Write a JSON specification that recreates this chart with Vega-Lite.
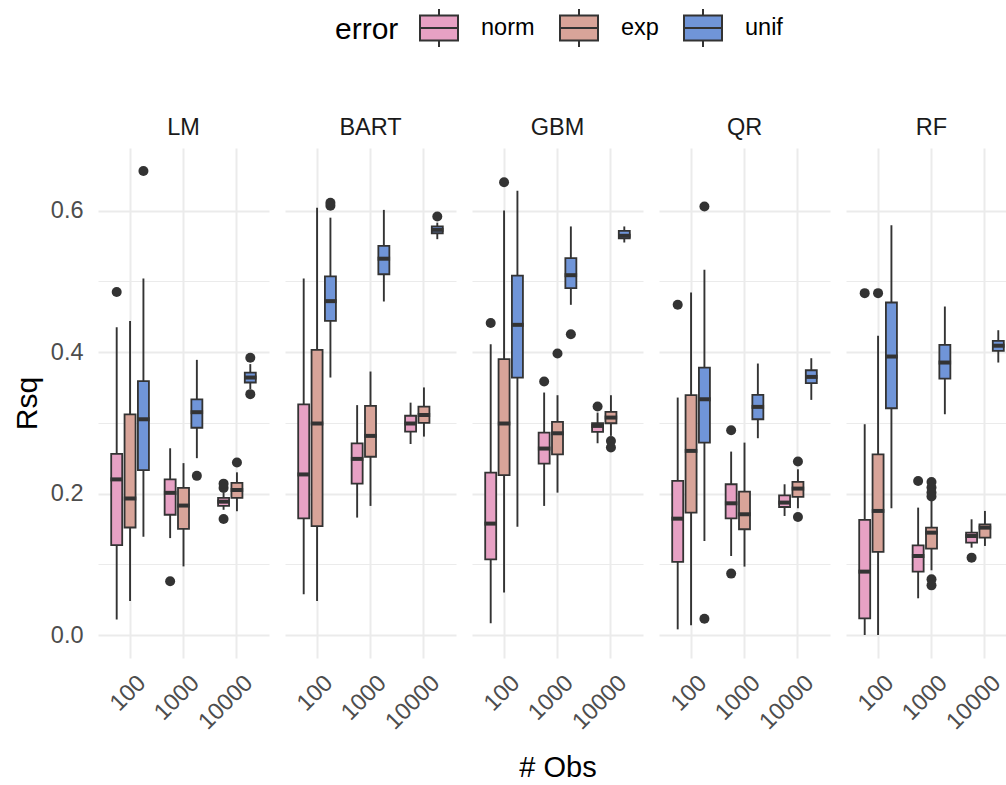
{
  "$schema": "https://vega.github.io/schema/vega-lite/v6.json",
  "background": "white",
  "padding": {"left": 12, "top": 8, "right": 0, "bottom": 0},
  "config": {
    "font": "Liberation Sans",
    "view": {"stroke": null}
  },
  "data": {
    "values": [
      {"model": "LM", "nobs": "100", "error": "norm", "lower": 0.022, "q1": 0.127, "median": 0.220, "q3": 0.256, "upper": 0.435, "outliers": [0.485]},
      {"model": "LM", "nobs": "100", "error": "exp", "lower": 0.048, "q1": 0.152, "median": 0.193, "q3": 0.312, "upper": 0.444, "outliers": []},
      {"model": "LM", "nobs": "100", "error": "unif", "lower": 0.139, "q1": 0.233, "median": 0.305, "q3": 0.359, "upper": 0.504, "outliers": [0.656]},
      {"model": "LM", "nobs": "1000", "error": "norm", "lower": 0.137, "q1": 0.170, "median": 0.201, "q3": 0.220, "upper": 0.264, "outliers": [0.076]},
      {"model": "LM", "nobs": "1000", "error": "exp", "lower": 0.097, "q1": 0.150, "median": 0.183, "q3": 0.208, "upper": 0.243, "outliers": []},
      {"model": "LM", "nobs": "1000", "error": "unif", "lower": 0.250, "q1": 0.293, "median": 0.315, "q3": 0.333, "upper": 0.389, "outliers": [0.225]},
      {"model": "LM", "nobs": "10000", "error": "norm", "lower": 0.177, "q1": 0.1825, "median": 0.1885, "q3": 0.194, "upper": 0.201, "outliers": [0.208, 0.214, 0.164]},
      {"model": "LM", "nobs": "10000", "error": "exp", "lower": 0.175, "q1": 0.194, "median": 0.205, "q3": 0.215, "upper": 0.230, "outliers": [0.244]},
      {"model": "LM", "nobs": "10000", "error": "unif", "lower": 0.3475, "q1": 0.357, "median": 0.364, "q3": 0.371, "upper": 0.383, "outliers": [0.392, 0.3405]},

      {"model": "BART", "nobs": "100", "error": "norm", "lower": 0.0575, "q1": 0.165, "median": 0.227, "q3": 0.326, "upper": 0.504, "outliers": []},
      {"model": "BART", "nobs": "100", "error": "exp", "lower": 0.048, "q1": 0.154, "median": 0.299, "q3": 0.403, "upper": 0.604, "outliers": []},
      {"model": "BART", "nobs": "100", "error": "unif", "lower": 0.364, "q1": 0.444, "median": 0.472, "q3": 0.507, "upper": 0.590, "outliers": [0.607, 0.611]},
      {"model": "BART", "nobs": "1000", "error": "norm", "lower": 0.166, "q1": 0.214, "median": 0.249, "q3": 0.271, "upper": 0.325, "outliers": []},
      {"model": "BART", "nobs": "1000", "error": "exp", "lower": 0.1825, "q1": 0.252, "median": 0.2815, "q3": 0.324, "upper": 0.3725, "outliers": []},
      {"model": "BART", "nobs": "1000", "error": "unif", "lower": 0.4715, "q1": 0.510, "median": 0.532, "q3": 0.550, "upper": 0.601, "outliers": []},
      {"model": "BART", "nobs": "10000", "error": "norm", "lower": 0.270, "q1": 0.2875, "median": 0.299, "q3": 0.310, "upper": 0.3285, "outliers": []},
      {"model": "BART", "nobs": "10000", "error": "exp", "lower": 0.2805, "q1": 0.300, "median": 0.311, "q3": 0.323, "upper": 0.350, "outliers": []},
      {"model": "BART", "nobs": "10000", "error": "unif", "lower": 0.5596, "q1": 0.568, "median": 0.5728, "q3": 0.5776, "upper": 0.583, "outliers": [0.5917]},

      {"model": "GBM", "nobs": "100", "error": "norm", "lower": 0.0165, "q1": 0.107, "median": 0.1575, "q3": 0.2296, "upper": 0.411, "outliers": [0.441]},
      {"model": "GBM", "nobs": "100", "error": "exp", "lower": 0.060, "q1": 0.226, "median": 0.299, "q3": 0.390, "upper": 0.600, "outliers": [0.640]},
      {"model": "GBM", "nobs": "100", "error": "unif", "lower": 0.153, "q1": 0.364, "median": 0.4385, "q3": 0.508, "upper": 0.628, "outliers": []},
      {"model": "GBM", "nobs": "1000", "error": "norm", "lower": 0.1825, "q1": 0.2423, "median": 0.2636, "q3": 0.2862, "upper": 0.3428, "outliers": [0.3583]},
      {"model": "GBM", "nobs": "1000", "error": "exp", "lower": 0.2013, "q1": 0.2555, "median": 0.2852, "q3": 0.3013, "upper": 0.339, "outliers": [0.398]},
      {"model": "GBM", "nobs": "1000", "error": "unif", "lower": 0.4668, "q1": 0.4903, "median": 0.5087, "q3": 0.5328, "upper": 0.5776, "outliers": [0.4253]},
      {"model": "GBM", "nobs": "10000", "error": "norm", "lower": 0.2711, "q1": 0.2871, "median": 0.2956, "q3": 0.2994, "upper": 0.3145, "outliers": [0.323]},
      {"model": "GBM", "nobs": "10000", "error": "exp", "lower": 0.2815, "q1": 0.2994, "median": 0.3074, "q3": 0.3154, "upper": 0.339, "outliers": [0.2744, 0.2650]},
      {"model": "GBM", "nobs": "10000", "error": "unif", "lower": 0.5549, "q1": 0.5606, "median": 0.5644, "q3": 0.5714, "upper": 0.5776, "outliers": []},

      {"model": "QR", "nobs": "100", "error": "norm", "lower": 0.008, "q1": 0.1033, "median": 0.1645, "q3": 0.2178, "upper": 0.3357, "outliers": [0.4668]},
      {"model": "QR", "nobs": "100", "error": "exp", "lower": 0.0137, "q1": 0.173, "median": 0.2603, "q3": 0.339, "upper": 0.4842, "outliers": []},
      {"model": "QR", "nobs": "100", "error": "unif", "lower": 0.133, "q1": 0.272, "median": 0.3333, "q3": 0.3781, "upper": 0.5163, "outliers": [0.6058, 0.0231]},
      {"model": "QR", "nobs": "1000", "error": "norm", "lower": 0.1117, "q1": 0.165, "median": 0.1862, "q3": 0.2131, "upper": 0.2593, "outliers": [0.2895, 0.0868]},
      {"model": "QR", "nobs": "1000", "error": "exp", "lower": 0.0967, "q1": 0.1495, "median": 0.1707, "q3": 0.2027, "upper": 0.272, "outliers": []},
      {"model": "QR", "nobs": "1000", "error": "unif", "lower": 0.2782, "q1": 0.305, "median": 0.3225, "q3": 0.3395, "upper": 0.3838, "outliers": []},
      {"model": "QR", "nobs": "10000", "error": "norm", "lower": 0.1683, "q1": 0.181, "median": 0.1872, "q3": 0.1975, "upper": 0.2131, "outliers": []},
      {"model": "QR", "nobs": "10000", "error": "exp", "lower": 0.1792, "q1": 0.1952, "median": 0.207, "q3": 0.2164, "upper": 0.2343, "outliers": [0.2452, 0.1669]},
      {"model": "QR", "nobs": "10000", "error": "unif", "lower": 0.3324, "q1": 0.356, "median": 0.3649, "q3": 0.3743, "upper": 0.3913, "outliers": []},

      {"model": "RF", "nobs": "100", "error": "norm", "lower": 0.0, "q1": 0.0236, "median": 0.0896, "q3": 0.1627, "upper": 0.298, "outliers": [0.4833]},
      {"model": "RF", "nobs": "100", "error": "exp", "lower": 0.0, "q1": 0.1174, "median": 0.1754, "q3": 0.2555, "upper": 0.4229, "outliers": [0.4833]},
      {"model": "RF", "nobs": "100", "error": "unif", "lower": 0.1792, "q1": 0.3206, "median": 0.3937, "q3": 0.4701, "upper": 0.5794, "outliers": []},
      {"model": "RF", "nobs": "1000", "error": "norm", "lower": 0.0519, "q1": 0.0896, "median": 0.1117, "q3": 0.1268, "upper": 0.1801, "outliers": [0.2178]},
      {"model": "RF", "nobs": "1000", "error": "exp", "lower": 0.0915, "q1": 0.1221, "median": 0.1447, "q3": 0.1518, "upper": 0.1895, "outliers": [0.2164, 0.2084, 0.2013, 0.1957, 0.0787, 0.0702]},
      {"model": "RF", "nobs": "1000", "error": "unif", "lower": 0.3121, "q1": 0.3626, "median": 0.3852, "q3": 0.4102, "upper": 0.4644, "outliers": []},
      {"model": "RF", "nobs": "10000", "error": "norm", "lower": 0.1235, "q1": 0.1306, "median": 0.140, "q3": 0.1447, "upper": 0.1636, "outliers": [0.1094]},
      {"model": "RF", "nobs": "10000", "error": "exp", "lower": 0.1259, "q1": 0.1377, "median": 0.1518, "q3": 0.1565, "upper": 0.1754, "outliers": []},
      {"model": "RF", "nobs": "10000", "error": "unif", "lower": 0.3852, "q1": 0.4017, "median": 0.409, "q3": 0.4158, "upper": 0.4309, "outliers": []}
    ]
  },
  "facet": {
    "column": {
      "field": "model",
      "type": "nominal",
      "sort": ["LM", "BART", "GBM", "QR", "RF"],
      "title": "# Obs",
      "header": {
        "labelOrient": "top",
        "labelFontSize": 23.5,
        "labelColor": "#1A1A1A",
        "labelPadding": -15,
        "labelBaseline": "bottom",
        "titleOrient": "bottom",
        "titleFontSize": 29,
        "titleFontWeight": "normal",
        "titleColor": "#000000",
        "titlePadding": 10
      }
    }
  },
  "spacing": 16,
  "spec": {
    "width": 171,
    "height": 510,
    "encoding": {
      "x": {
        "field": "nobs",
        "type": "nominal",
        "sort": ["100", "1000", "10000"],
        "scale": {"paddingInner": 0, "paddingOuter": 0.1},
        "axis": {
          "title": null,
          "bandPosition": 0.5,
          "grid": true,
          "gridColor": "#EBEBEB",
          "gridWidth": 2,
          "ticks": false,
          "tickSize": 0,
          "domain": false,
          "labelAngle": -45,
          "labelAlign": "right",
          "labelBaseline": "middle",
          "labelOffset": 12,
          "labelPadding": 21,
          "labelFontSize": 23.5,
          "labelColor": "#4D4D4D"
        }
      },
      "xOffset": {
        "field": "error",
        "type": "nominal",
        "sort": ["norm", "exp", "unif"],
        "scale": {"paddingInner": 0.176, "paddingOuter": 0.588}
      }
    },
    "layer": [
      {
        "mark": {"type": "rule", "color": "#333333", "strokeWidth": 1.9},
        "encoding": {
          "y": {
            "field": "lower",
            "type": "quantitative",
            "title": "Rsq",
            "scale": {"domain": [-0.0325, 0.6885], "nice": false, "zero": false},
            "axis": {
              "values": [0, 0.1, 0.2, 0.3, 0.4, 0.5, 0.6],
              "labelExpr": "(datum.value == 0.1 || datum.value == 0.3 || datum.value == 0.5) ? '' : format(datum.value, '.1f')",
              "grid": true,
              "gridColor": "#EBEBEB",
              "gridWidth": {"condition": {"test": "datum.value == 0.1 || datum.value == 0.3 || datum.value == 0.5", "value": 1.1}, "value": 2},
              "ticks": false,
              "tickSize": 0,
              "domain": false,
              "labelFontSize": 23.5,
              "labelColor": "#4D4D4D",
              "labelPadding": 15,
              "titleFontSize": 30,
              "titleFontWeight": "normal",
              "titleColor": "#000000",
              "titlePadding": 8
            }
          },
          "y2": {"field": "upper"}
        }
      },
      {
        "mark": {"type": "bar", "stroke": "#333333", "strokeWidth": 1.8},
        "encoding": {
          "y": {"field": "q1", "type": "quantitative", "title": "Rsq"},
          "y2": {"field": "q3"},
          "fill": {
            "field": "error",
            "type": "nominal",
            "sort": ["norm", "exp", "unif"],
            "scale": {"domain": ["norm", "exp", "unif"], "range": ["#E7A1C4", "#D8A499", "#7095D8"]},
            "legend": {
              "orient": "none",
              "legendX": 237,
              "legendY": -140,
              "direction": "horizontal",
              "title": "error",
              "titleOrient": "left",
              "titleFontSize": 30,
              "titleFontWeight": "normal",
              "titleColor": "#000000",
              "titlePadding": 20,
              "titleBaseline": "middle",
              "labelFontSize": 23.5,
              "labelColor": "#000000",
              "labelOffset": 22,
              "columnPadding": 21,
              "symbolType": "M-1,-0.66H1V0.66H-1Z M-1,0H1 M0,-0.66V-1 M0,0.66V1",
              "symbolSize": 1444,
              "symbolStrokeColor": "#333333",
              "symbolStrokeWidth": 2,
              "symbolOpacity": 1
            }
          }
        }
      },
      {
        "mark": {"type": "tick", "color": "#333333", "size": 12.5, "thickness": 4, "orient": "horizontal", "opacity": 1},
        "encoding": {
          "y": {"field": "median", "type": "quantitative", "title": "Rsq"}
        }
      },
      {
        "transform": [{"flatten": ["outliers"]}],
        "mark": {"type": "point", "filled": true, "color": "#333333", "size": 100, "opacity": 1},
        "encoding": {
          "y": {"field": "outliers", "type": "quantitative", "title": "Rsq"}
        }
      }
    ]
  }
}
